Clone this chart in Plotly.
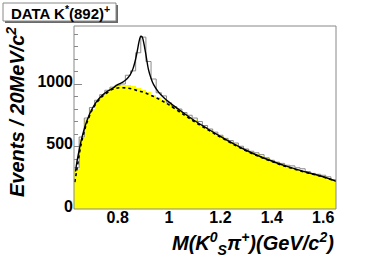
import plotly.graph_objects as go

# bin centres (20 MeV bins from 0.63 to 1.65 GeV)
bin_centers = [0.64, 0.66, 0.68, 0.70, 0.72, 0.74, 0.76, 0.78, 0.80, 0.82,
               0.84, 0.86, 0.88, 0.90, 0.92, 0.94, 0.96, 0.98, 1.00, 1.02,
               1.04, 1.06, 1.08, 1.10, 1.12, 1.14, 1.16, 1.18, 1.20, 1.22,
               1.24, 1.26, 1.28, 1.30, 1.32, 1.34, 1.36, 1.38, 1.40, 1.42,
               1.44, 1.46, 1.48, 1.50, 1.52, 1.54, 1.56, 1.58, 1.60, 1.62,
               1.64]
bin_width = 0.02

data_counts = [330, 576, 728, 812, 870, 915, 950, 975, 990, 1000,
               1070, 1105, 1250, 1375, 1180, 1040, 930, 905, 850, 820,
               800, 772, 750, 728, 700, 668, 640, 615, 590, 565,
               548, 528, 502, 480, 462, 450, 435, 410, 390, 375,
               365, 350, 345, 330, 322, 300, 285, 278, 270, 258,
               235]

bkg_counts = [320, 560, 720, 800, 865, 910, 945, 968, 985, 990,
              990, 988, 968, 955, 938, 915, 893, 870, 845, 815,
              790, 765, 738, 712, 688, 660, 636, 610, 588, 565,
              540, 518, 497, 478, 457, 440, 422, 405, 390, 374,
              358, 345, 332, 320, 308, 296, 285, 274, 262, 250,
              235]

# fitted curves
bkgfit_x = [0.633, 0.64, 0.65, 0.66, 0.67, 0.68, 0.70, 0.72, 0.74, 0.76,
            0.78, 0.80, 0.82, 0.84, 0.86, 0.88, 0.90, 0.92, 0.94, 0.96,
            0.98, 1.00, 1.05, 1.10, 1.15, 1.20, 1.25, 1.30, 1.35, 1.40,
            1.45, 1.50, 1.55, 1.60, 1.65]
bkgfit_y = [215, 300, 430, 540, 620, 690, 790, 855, 900, 932,
            958, 968, 970, 966, 958, 945, 935, 918, 900, 880,
            857, 833, 765, 697, 635, 575, 518, 465, 420, 380,
            343, 312, 283, 256, 222]

totfit_x = [0.636, 0.64, 0.65, 0.66, 0.67, 0.68, 0.70, 0.72, 0.74, 0.76,
            0.78, 0.80, 0.82, 0.83, 0.84, 0.85, 0.86, 0.87, 0.875, 0.88,
            0.885, 0.89, 0.895, 0.90, 0.905, 0.91, 0.92, 0.93, 0.94, 0.96,
            0.98, 1.00, 1.05, 1.10, 1.15, 1.20, 1.25, 1.30, 1.35, 1.40,
            1.45, 1.50, 1.55, 1.60, 1.65]
totfit_y = [300, 360, 470, 565, 640, 705, 800, 865, 910, 942,
            965, 995, 1015, 1030, 1050, 1078, 1125, 1200, 1250, 1305,
            1355, 1382, 1378, 1345, 1292, 1235, 1115, 1045, 995, 933,
            890, 855, 778, 706, 642, 581, 523, 470, 424, 384,
            347, 315, 286, 258, 223]

y_ticks = [0, 500, 1000]
x_ticks = [0.8, 1.0, 1.2, 1.4, 1.6]
x_ticklabels = ["0.8", "1", "1.2", "1.4", "1.6"]

# step outline for data histogram
edges = [c - bin_width / 2 for c in bin_centers] + [bin_centers[-1] + bin_width / 2]
step_y = data_counts + [data_counts[-1]]

fig = go.Figure()
fig.add_trace(go.Bar(x=bin_centers, y=bkg_counts, width=bin_width,
                     marker=dict(color="#FFFF00", line=dict(width=0)),
                     hoverinfo="skip", showlegend=False))
fig.add_trace(go.Scatter(x=edges, y=step_y, mode="lines", line_shape="hv",
                         line=dict(color="#8a8a8a", width=1), showlegend=False))
fig.add_trace(go.Scatter(x=bkgfit_x, y=bkgfit_y, mode="lines", line_shape="spline",
                         line=dict(color="black", width=1.6, dash="dot"), showlegend=False))
fig.add_trace(go.Scatter(x=totfit_x, y=totfit_y, mode="lines", line_shape="spline",
                         line=dict(color="black", width=1.4), showlegend=False))

L, R, T, B = 74, 38, 26, 53
W, H = 374, 262
pw, ph = W - L - R, H - T - B

def px2x(px):
    return (px - L) / pw

def py2y(py):
    return (H - B - py) / ph

font_family = "Liberation Sans, Arial, sans-serif"

fig.update_layout(
    width=W, height=H,
    margin=dict(l=L, r=R, t=T, b=B, pad=0, autoexpand=False),
    paper_bgcolor="white", plot_bgcolor="white",
    bargap=0,
    font=dict(family=font_family, color="black"),
    xaxis=dict(range=[0.63, 1.65], tickvals=x_ticks, ticktext=x_ticklabels,
               ticks="inside", ticklen=8, tickcolor="#888", showgrid=False,
               zeroline=False, showline=False, layer="below traces",
               automargin=False, ticklabelstandoff=-3,
               tickfont=dict(size=16, weight="bold", family=font_family)),
    yaxis=dict(range=[0, 1464], tickvals=y_ticks, ticks="inside", ticklen=8,
               tickcolor="#888", showgrid=False, zeroline=False, showline=False,
               layer="below traces", ticklabelshift=-3, automargin=False,
               minor=dict(dtick=100, ticks="inside", ticklen=4, tickcolor="#888"),
               tickfont=dict(size=16, weight="bold", family=font_family)),
    shapes=[
        dict(type="rect", xref="paper", yref="paper", x0=0, x1=1, y0=0, y1=1,
             line=dict(color="#888", width=1), layer="above"),
        dict(type="rect", xref="paper", yref="paper",
             x0=px2x(5), x1=px2x(118), y0=py2y(23), y1=py2y(5),
             line=dict(width=0), fillcolor="#6a6a6a", layer="above"),
        dict(type="rect", xref="paper", yref="paper",
             x0=px2x(3), x1=px2x(116), y0=py2y(21), y1=py2y(3),
             line=dict(color="#888", width=1), fillcolor="white", layer="above"),
    ],
    annotations=[
        dict(text="<b>DATA K<sup>*</sup>(892)<sup>+</sup></b>", xref="paper", yref="paper",
             x=px2x(60), y=py2y(12.5), xanchor="center", yanchor="middle",
             showarrow=False, font=dict(size=15, family=font_family, color="black")),
        dict(text="<b><i>Events / 20MeV/c<sup>2</sup></i></b>", xref="paper", yref="paper",
             x=px2x(15), y=py2y(112), xanchor="center", yanchor="middle", textangle=-90,
             showarrow=False, font=dict(size=20, family=font_family, color="black")),
        dict(text="<b><i>M(K<sup>0</sup><sub>S</sub>π<sup>+</sup>)(GeV/c<sup>2</sup>)</i></b>",
             xref="paper", yref="paper", x=1.0, y=py2y(243), xanchor="right", yanchor="middle",
             showarrow=False, font=dict(size=20, family=font_family, color="black")),
    ],
)

fig.write_html("out.html",
               config={"displayModeBar": False, "staticPlot": True},
               post_script="document.body.style.margin='0';document.body.style.padding='0';")
